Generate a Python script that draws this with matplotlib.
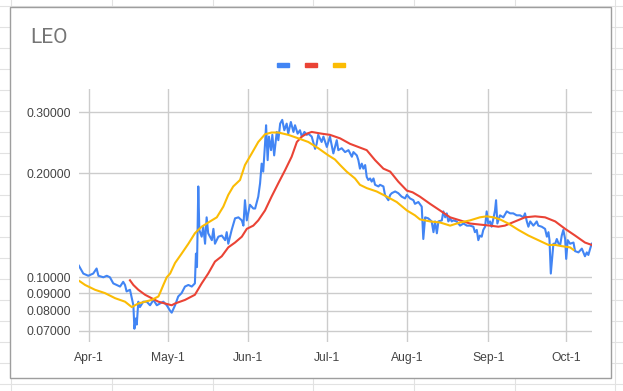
import matplotlib
matplotlib.use("Agg")
from matplotlib import pyplot as plt
from matplotlib.patches import Rectangle
from matplotlib.lines import Line2D
from matplotlib.ticker import NullLocator
import pandas as pd

# days counted from Apr-1, values in USD
blue_day = [-4.0, -2.3, -0.4, 1.5, 2.8, 3.5, 5.4, 6.7, 7.9, 9.2, 10.5, 11.8, 13.0, 13.7, 14.3,
            15.6, 16.3, 16.9, 17.3, 17.8, 18.2, 18.8, 19.4, 20.7, 22.0, 23.3, 24.6, 25.9, 27.1,
            28.4, 29.7, 31.0, 31.6, 32.9, 34.1, 35.4, 36.7, 38.0, 39.3, 40.5, 40.9, 41.3, 41.8,
            42.2, 43.1, 43.7, 44.4, 45.0, 45.6, 47.0, 47.6, 48.2, 49.5, 50.8, 52.1, 52.7, 53.3,
            54.6, 55.9, 57.2, 58.5, 59.1, 59.7, 60.4, 61.6, 62.9, 63.6, 64.8, 65.5, 66.1, 66.7,
            67.4, 67.8, 68.4, 68.9, 69.7, 70.2, 70.9, 71.9, 72.5, 73.2, 74.0, 74.8, 75.7, 76.3,
            77.3, 78.3, 78.9, 79.9, 80.8, 81.5, 82.5, 83.4, 84.0, 85.3, 86.6, 87.2, 87.8, 89.1,
            89.8, 91.1, 92.3, 93.6, 94.9, 95.5, 96.8, 98.1, 99.4, 100.7, 101.3, 102.6, 103.2,
            103.8, 104.5, 105.1, 105.8, 106.4, 107.0, 107.7, 108.3, 109.0, 109.6, 110.9, 111.5,
            112.8, 113.4, 114.7, 115.4, 116.0, 117.3, 118.5, 119.8, 121.1, 121.8, 123.0, 124.3,
            124.9, 126.2, 127.5, 128.1, 128.8, 130.0, 131.3, 132.0, 132.6, 133.3, 133.9, 135.2,
            135.8, 136.5, 137.1, 137.7, 138.4, 139.0, 139.6, 140.9, 142.2, 143.5, 144.8, 146.0,
            147.3, 147.9, 148.6, 149.2, 149.8, 150.5, 151.1, 151.8, 152.4, 153.0, 153.7, 154.3,
            155.0, 155.6, 156.0, 156.5, 157.5, 158.8, 160.1, 161.4, 162.6, 163.9, 165.2, 166.5,
            167.1, 167.8, 168.4, 169.1, 170.3, 171.0, 171.6, 172.2, 173.5, 174.8, 175.5, 176.1,
            176.5, 177.0, 177.4, 178.0, 178.7, 179.3, 180.0, 180.6, 181.2, 181.8, 182.5, 182.9,
            183.5, 184.4, 185.7, 186.3, 187.6, 188.9, 190.1, 190.8, 191.4, 192.1, 192.7]
blue_val = [0.108, 0.1025, 0.101, 0.1025, 0.106, 0.101, 0.100, 0.101, 0.100, 0.096, 0.095, 0.094,
            0.097, 0.095, 0.091, 0.092, 0.087, 0.083, 0.071, 0.076, 0.073, 0.085, 0.082, 0.085,
            0.085, 0.083, 0.086, 0.083, 0.084, 0.085, 0.083, 0.080, 0.079, 0.083, 0.088, 0.090,
            0.094, 0.095, 0.094, 0.096, 0.117, 0.107, 0.183, 0.137, 0.131, 0.140, 0.125, 0.149,
            0.134, 0.128, 0.138, 0.125, 0.131, 0.132, 0.128, 0.135, 0.125, 0.137, 0.148, 0.149,
            0.146, 0.141, 0.167, 0.146, 0.162, 0.158, 0.158, 0.171, 0.187, 0.213, 0.202, 0.243,
            0.275, 0.218, 0.255, 0.233, 0.258, 0.225, 0.263, 0.249, 0.278, 0.285, 0.266, 0.278,
            0.260, 0.281, 0.263, 0.275, 0.260, 0.266, 0.255, 0.263, 0.258, 0.260, 0.255, 0.235,
            0.243, 0.258, 0.246, 0.255, 0.238, 0.255, 0.228, 0.249, 0.233, 0.236, 0.230, 0.233,
            0.223, 0.230, 0.225, 0.218, 0.206, 0.213, 0.206, 0.211, 0.195, 0.191, 0.193, 0.189,
            0.193, 0.185, 0.183, 0.185, 0.183, 0.173, 0.167, 0.173, 0.175, 0.177, 0.175, 0.171,
            0.169, 0.173, 0.169, 0.167, 0.163, 0.165, 0.160, 0.129, 0.149, 0.148, 0.145, 0.135,
            0.145, 0.134, 0.145, 0.146, 0.155, 0.149, 0.153, 0.145, 0.148, 0.145, 0.146, 0.145,
            0.141, 0.143, 0.141, 0.141, 0.140, 0.135, 0.137, 0.128, 0.132, 0.131, 0.137, 0.140,
            0.155, 0.143, 0.145, 0.140, 0.148, 0.156, 0.167, 0.143, 0.151, 0.149, 0.155, 0.153,
            0.153, 0.151, 0.151, 0.149, 0.153, 0.145, 0.140, 0.145, 0.141, 0.143, 0.145, 0.141,
            0.140, 0.138, 0.131, 0.135, 0.128, 0.1025, 0.111, 0.125, 0.125, 0.129, 0.125, 0.124,
            0.132, 0.137, 0.129, 0.113, 0.128, 0.125, 0.126, 0.119, 0.118, 0.121, 0.115, 0.118,
            0.116, 0.121, 0.125]

red_day = [15.6, 16.9, 18.8, 21.4, 23.9, 26.5, 29.0, 31.6, 32.9, 36.7, 40.5, 43.1, 45.6, 48.2,
           50.8, 53.3, 55.9, 58.5, 60.4, 62.9, 64.8, 67.4, 69.9, 72.5, 75.1, 77.6, 79.6, 81.5,
           83.4, 85.3, 89.1, 92.3, 96.2, 100.0, 103.8, 106.4, 109.6, 112.8, 115.4, 118.5, 121.8,
           124.0, 126.8, 130.7, 134.5, 138.4, 142.2, 146.0, 149.8, 153.7, 156.9, 159.4, 163.3,
           167.1, 171.0, 174.8, 178.7, 182.5, 186.3, 190.1, 192.7]
red_val = [0.098, 0.095, 0.092, 0.089, 0.087, 0.085, 0.084, 0.083, 0.084, 0.086, 0.089, 0.096,
           0.1025, 0.111, 0.115, 0.122, 0.126, 0.131, 0.138, 0.141, 0.146, 0.156, 0.171, 0.187,
           0.204, 0.223, 0.246, 0.255, 0.260, 0.263, 0.260, 0.258, 0.252, 0.243, 0.237, 0.233,
           0.218, 0.206, 0.202, 0.189, 0.178, 0.176, 0.171, 0.163, 0.156, 0.149, 0.146, 0.143,
           0.142, 0.141, 0.140, 0.141, 0.145, 0.149, 0.150, 0.149, 0.145, 0.138, 0.132, 0.126,
           0.124]

yellow_day = [-4.2, -1.6, 2.2, 6.0, 9.9, 13.7, 16.3, 18.8, 21.4, 23.9, 26.5, 27.1, 28.4, 29.7,
              31.0, 32.9, 35.4, 38.0, 40.5, 43.1, 46.3, 48.9, 51.4, 53.3, 55.2, 57.8, 59.7, 62.3,
              64.8, 67.4, 69.9, 72.5, 76.3, 80.2, 84.0, 87.8, 91.7, 94.2, 96.2, 98.7, 101.9,
              103.8, 106.4, 110.2, 114.1, 117.9, 121.8, 124.9, 126.8, 130.7, 134.5, 138.4, 142.2,
              146.0, 149.8, 152.4, 155.0, 157.5, 160.7, 164.6, 168.4, 172.2, 176.1, 178.7, 181.2,
              184.4, 185.7]
yellow_val = [0.098, 0.095, 0.092, 0.090, 0.087, 0.085, 0.082, 0.084, 0.085, 0.086, 0.088, 0.090,
              0.095, 0.100, 0.1025, 0.110, 0.117, 0.125, 0.134, 0.140, 0.145, 0.149, 0.160, 0.173,
              0.183, 0.191, 0.211, 0.228, 0.246, 0.259, 0.262, 0.262, 0.258, 0.252, 0.246, 0.236,
              0.225, 0.219, 0.211, 0.202, 0.193, 0.185, 0.181, 0.177, 0.171, 0.165, 0.156, 0.151,
              0.147, 0.145, 0.144, 0.141, 0.144, 0.146, 0.149, 0.150, 0.149, 0.147, 0.143, 0.137,
              0.132, 0.128, 0.124, 0.124, 0.123, 0.122, 0.120]

y_ticks = [0.07, 0.08, 0.09, 0.10, 0.20, 0.30]
y_labels = ["0.07000", "0.08000", "0.09000", "0.10000", "0.20000", "0.30000"]
x_tick_days = [0, 30, 61, 91, 122, 153, 183]
x_labels = ["Apr-1", "May-1", "Jun-1", "Jul-1", "Aug-1", "Sep-1", "Oct-1"]

BLUE, RED, YELLOW = "#4285F4", "#EA4335", "#FBBC04"

start = pd.Timestamp("2021-04-01")


def to_dates(days):
    return start + pd.to_timedelta(days, unit="D")


W, H = 623, 391
fig = plt.figure(figsize=(W / 100, H / 100), dpi=100)

# spreadsheet cells behind the chart
for x in [11, 112, 213, 313, 414, 515, 615]:
    fig.add_artist(Line2D([x / W, x / W], [0, 1], color="#e2e2e2", lw=0.8, zorder=-3))
for y in range(6, H, 21):
    fig.add_artist(Line2D([0, 1], [1 - y / H, 1 - y / H], color="#e2e2e2", lw=0.8, zorder=-3))

# chart card
fig.add_artist(Rectangle((10 / W, 1 - 378 / H), 601 / W, 371 / H, facecolor="white",
                         edgecolor="#9e9e9e", lw=1, zorder=-2))

ax = fig.add_axes([79 / W, 1 - 342 / H, 513 / W, 253 / H])
ax.set_facecolor("none")

ax.plot(to_dates(blue_day), blue_val, color=BLUE, lw=1.5, zorder=3)
ax.plot(to_dates(red_day), red_val, color=RED, lw=1.5, zorder=4)
ax.plot(to_dates(yellow_day), yellow_val, color=YELLOW, lw=1.5, zorder=5)

ax.set_yscale("log")
ax.set_ylim(0.065, 0.35)
ax.set_xlim(to_dates(-3.95), to_dates(192.8))

ax.set_yticks(y_ticks)
ax.set_yticklabels(y_labels)
ax.yaxis.set_minor_locator(NullLocator())
ax.set_xticks(to_dates(x_tick_days))
ax.set_xticklabels(x_labels)

for lab in ax.get_xticklabels() + ax.get_yticklabels():
    lab.set_family("Liberation Sans")
ax.tick_params(length=0, labelsize=8.7, colors="#444444")
ax.tick_params(axis="y", pad=6)
ax.tick_params(axis="x", pad=7)

ax.grid(True, color="#cccccc", lw=1)
ax.set_axisbelow(True)
for s in ax.spines.values():
    s.set_visible(False)

# title
fig.text(30 / W, 1 - 43 / H, "LEO", fontsize=15, color="#757575", family="Roboto",
         va="baseline", ha="left")

# legend keys (series have no names)
for cx, c in zip([283, 311, 339], [BLUE, RED, YELLOW]):
    fig.add_artist(Rectangle(((cx - 6) / W, 1 - 67 / H), 12 / W, 4 / H, color=c))

fig.savefig("out.png", dpi=100)
